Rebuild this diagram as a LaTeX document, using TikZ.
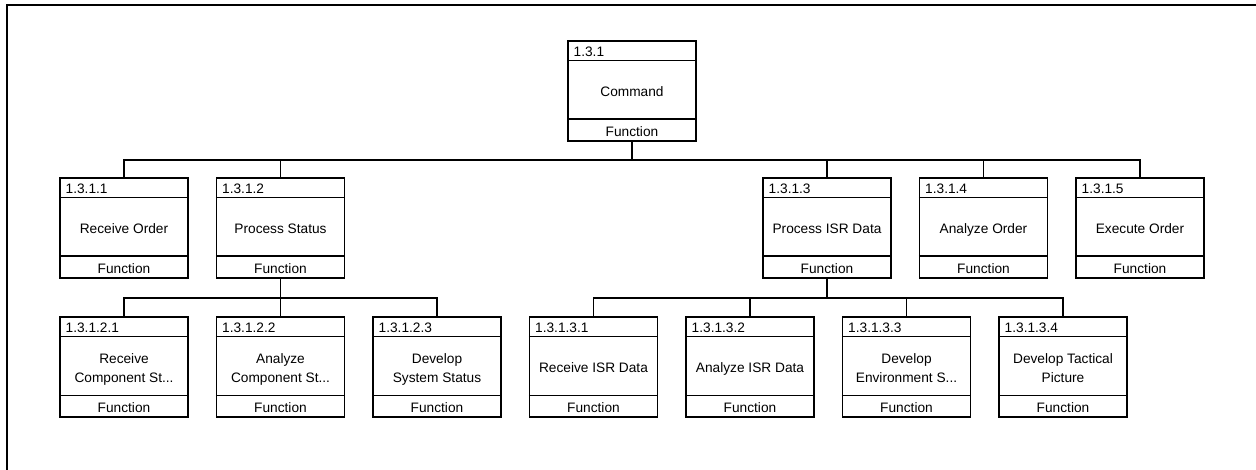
\documentclass[tikz,border=0pt]{standalone}
\usepackage{fontspec}
\setmainfont{Liberation Sans}
\tikzset{
  fnbox/.style={draw=black, line width=1.4pt, minimum width=128pt, minimum height=100pt, inner sep=0pt, fill=white},
  boxline/.style={line width=1.4pt, draw=black},
  conn/.style={line width=1.4pt, draw=black},
  numtxt/.style={anchor=west, inner sep=0pt, font=\fontsize{13.7}{16}\selectfont},
  labtxt/.style={align=center, inner sep=0pt, font=\fontsize{13.7}{19.5}\selectfont},
  foottxt/.style={inner sep=0pt, font=\fontsize{13.7}{16}\selectfont},
}
% #1 name, #2 left x, #3 top y, #4 number, #5 label
\newcommand\funcbox[5]{%
  \node[fnbox] (#1) at ({#2+64},{#3+50}) {};
  \draw[boxline] ([yshift=-20.5pt]#1.north west) -- ([yshift=-20.5pt]#1.north east);
  \draw[boxline] ([yshift=22.5pt]#1.south west) -- ([yshift=22.5pt]#1.south east);
  \node[numtxt] (#1-num) at ({#2+5.5},{#3+10.5}) {#4};
  \node[labtxt] (#1-lab) at ({#2+64},{#3+52}) {\strut #5\strut};
  \node[foottxt] (#1-foot) at ({#2+64},{#3+90.5}) {Function};
}
\begin{document}
\begin{tikzpicture}[x=1pt,y=-1pt]
\useasboundingbox (0,0) rectangle (1256,470);
\coordinate (frameTR) at (1256,5);
\coordinate (frameTL) at (7,5);
\coordinate (frameBL) at (7,470);
\draw[line width=1.5pt] (frameTR) -- (frameTL) -- (frameBL);

\funcbox{root}{568}{41}{1.3.1}{Command}

\funcbox{a1}{60}{178}{1.3.1.1}{Receive Order}
\funcbox{a2}{216.5}{178}{1.3.1.2}{Process Status}
\funcbox{a3}{763}{178}{1.3.1.3}{Process ISR Data}
\funcbox{a4}{919.5}{178}{1.3.1.4}{Analyze Order}
\funcbox{a5}{1076}{178}{1.3.1.5}{Execute Order}

\funcbox{b1}{60}{317}{1.3.1.2.1}{Receive\\Component St...}
\funcbox{b2}{216.5}{317}{1.3.1.2.2}{Analyze\\Component St...}
\funcbox{b3}{373}{317}{1.3.1.2.3}{Develop\\System Status}

\funcbox{c1}{529.5}{317}{1.3.1.3.1}{Receive ISR Data}
\funcbox{c2}{686}{317}{1.3.1.3.2}{Analyze ISR Data}
\funcbox{c3}{842.5}{317}{1.3.1.3.3}{Develop\\Environment S...}
\funcbox{c4}{999}{317}{1.3.1.3.4}{Develop Tactical\\Picture}

\coordinate (bar1) at (0,160);
\coordinate (bar2) at (0,298);

\draw[conn] (root.south) -- (root.south |- bar1);
\draw[conn] (a1.north) -- (a1.north |- bar1) -- (a5.north |- bar1) -- (a5.north);
\foreach \n in {a2,a3,a4} \draw[conn] (\n.north) -- (\n.north |- bar1);

\draw[conn] (a2.south) -- (a2.south |- bar2);
\draw[conn] (b1.north) -- (b1.north |- bar2) -- (b3.north |- bar2) -- (b3.north);
\draw[conn] (b2.north) -- (b2.north |- bar2);

\draw[conn] (a3.south) -- (a3.south |- bar2);
\draw[conn] (c1.north) -- (c1.north |- bar2) -- (c4.north |- bar2) -- (c4.north);
\foreach \n in {c2,c3} \draw[conn] (\n.north) -- (\n.north |- bar2);
\end{tikzpicture}
\end{document}
